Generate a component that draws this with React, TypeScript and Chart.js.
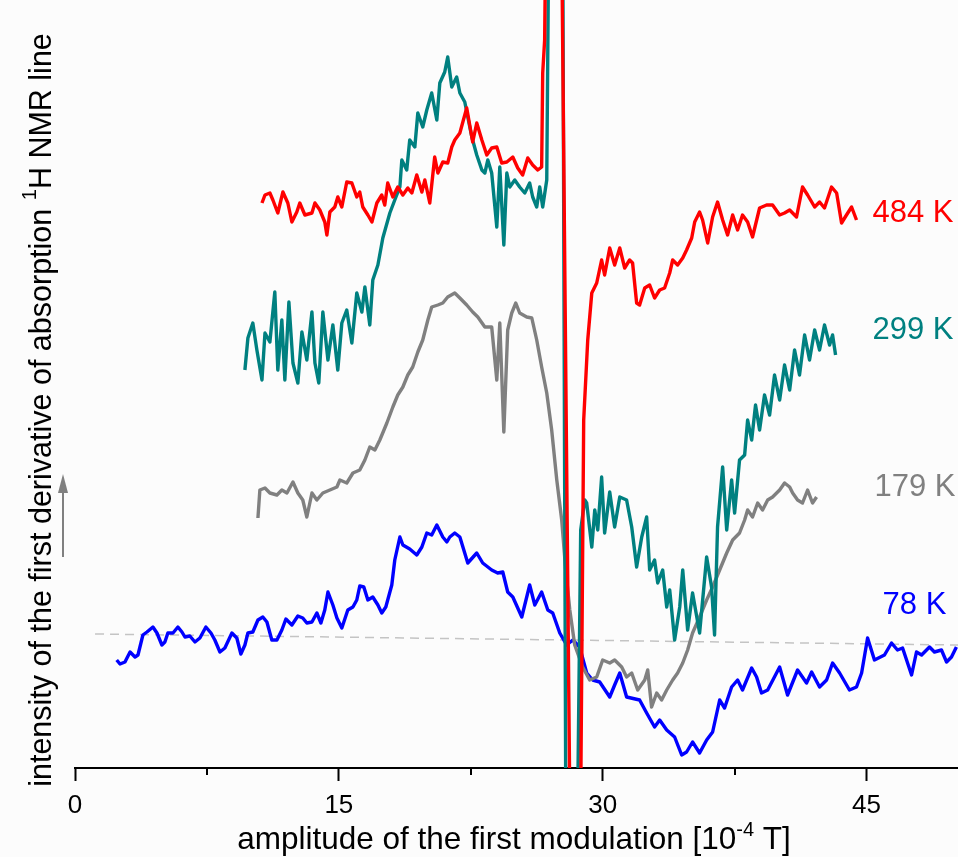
import { useEffect, useRef } from "react";
import { Chart, registerables } from "chart.js";

Chart.register(...registerables);

// ---- data (x: amplitude of first modulation [1e-4 T], y: intensity, arbitrary units) ----
const x484 = [10.63, 10.8, 11.08, 11.25, 11.53, 11.82, 12.1, 12.33, 12.61, 12.78, 13.07, 13.47, 13.64, 13.92, 14.2, 14.32, 14.49, 14.77, 14.94, 15.17, 15.45, 15.74, 16.02, 16.19, 16.36, 16.65, 16.88, 17.16, 17.44, 17.61, 17.78, 18.07, 18.35, 18.64, 18.92, 19.15, 19.43, 19.72, 19.89, 20.17, 20.45, 20.63, 20.91, 21.19, 21.42, 21.59, 21.88, 22.05, 22.27, 22.44, 22.61, 22.84, 23.13, 23.41, 23.69, 23.98, 24.26, 24.55, 24.89, 25.17, 25.45, 25.74, 26.02, 26.31, 26.53, 26.59, 26.7, 26.76, 27.67, 28.13, 28.75, 28.92, 29.15, 29.38, 29.66, 29.94, 30.11, 30.4, 30.68, 30.97, 31.25, 31.53, 31.7, 31.93, 32.1, 32.39, 32.67, 32.95, 33.24, 33.52, 33.81, 33.98, 34.26, 34.55, 34.77, 35.06, 35.23, 35.51, 35.68, 35.97, 36.25, 36.53, 36.82, 37.1, 37.39, 37.67, 37.95, 38.24, 38.52, 38.92, 39.32, 39.66, 40.06, 40.34, 40.63, 41.02, 41.36, 41.65, 42.05, 42.33, 42.61, 43.01, 43.3, 43.58, 43.86, 44.15, 44.43];
const y484 = [56.5, 57.3, 57.5, 56.8, 55.5, 57.6, 56.5, 54.6, 55.6, 56.5, 55.3, 55.5, 56.5, 55.8, 54.6, 53.3, 55.6, 56.1, 57.1, 56.1, 58.6, 58.5, 57.1, 57.6, 56.1, 55.3, 54.6, 56.5, 57.3, 56.3, 58.5, 57.1, 58.1, 57.3, 58.0, 57.5, 59.3, 57.6, 58.8, 56.5, 61.1, 59.5, 60.6, 60.5, 62.1, 62.8, 63.5, 64.6, 66.0, 64.3, 62.6, 64.5, 62.8, 61.3, 62.0, 62.1, 60.5, 60.6, 61.1, 60.0, 59.3, 61.0, 60.3, 59.8, 60.1, 69.5, 72.8, 82.8, 82.8, -3.2, -3.2, 34.8, 42.8, 47.5, 48.5, 50.8, 49.3, 52.0, 50.3, 52.0, 50.0, 50.8, 50.5, 46.5, 46.3, 48.0, 48.3, 47.0, 47.8, 48.0, 49.5, 50.8, 50.3, 51.0, 51.8, 53.0, 54.6, 55.6, 54.8, 52.5, 55.1, 56.6, 54.8, 53.3, 55.3, 53.8, 55.3, 54.6, 53.1, 56.0, 56.3, 56.3, 55.3, 55.5, 55.8, 55.1, 58.1, 57.3, 56.1, 56.6, 56.0, 58.1, 57.5, 54.5, 55.3, 56.1, 54.8];

const x299 = [9.66, 9.83, 10.11, 10.34, 10.63, 10.8, 11.08, 11.36, 11.53, 11.76, 11.93, 12.16, 12.39, 12.67, 12.9, 13.18, 13.47, 13.64, 13.86, 14.09, 14.38, 14.66, 14.94, 15.17, 15.45, 15.74, 16.02, 16.31, 16.48, 16.76, 16.93, 17.22, 17.5, 17.9, 18.18, 18.47, 18.58, 18.86, 19.03, 19.32, 19.49, 19.77, 20.0, 20.28, 20.57, 20.74, 21.02, 21.19, 21.42, 21.7, 21.88, 22.16, 22.33, 22.56, 22.84, 23.13, 23.3, 23.47, 23.69, 23.98, 24.15, 24.38, 24.55, 24.72, 25.0, 25.28, 25.57, 25.85, 26.02, 26.25, 26.42, 26.59, 26.82, 26.93, 27.73, 27.9, 28.58, 28.75, 28.98, 29.09, 29.38, 29.55, 29.72, 29.94, 30.11, 30.4, 30.68, 30.97, 31.36, 31.65, 31.93, 32.22, 32.5, 32.67, 32.95, 33.13, 33.41, 33.64, 33.81, 34.09, 34.38, 34.55, 34.83, 35.11, 35.51, 35.91, 36.19, 36.36, 36.53, 36.82, 37.05, 37.33, 37.5, 37.78, 38.07, 38.24, 38.47, 38.69, 38.92, 39.2, 39.49, 39.77, 40.06, 40.34, 40.63, 40.91, 41.19, 41.48, 41.76, 42.05, 42.33, 42.61, 42.9, 43.07, 43.24];
const y299 = [39.8, 43.0, 44.5, 41.8, 38.8, 43.5, 42.6, 47.6, 39.8, 44.8, 38.8, 46.6, 40.5, 38.5, 43.6, 40.8, 45.6, 40.5, 38.5, 45.6, 40.8, 44.3, 39.8, 44.5, 45.8, 42.5, 47.5, 45.6, 48.1, 44.3, 48.8, 50.3, 53.0, 55.5, 56.8, 58.1, 60.8, 59.8, 62.8, 62.1, 65.5, 64.1, 65.8, 67.5, 64.8, 68.5, 69.6, 71.1, 68.1, 69.1, 67.5, 66.6, 65.1, 63.1, 61.3, 59.8, 59.5, 60.8, 59.5, 54.1, 60.1, 52.3, 59.5, 58.1, 58.8, 58.1, 57.5, 58.5, 57.1, 56.1, 58.1, 56.1, 58.8, 82.8, 82.8, -3.2, -3.2, 23.8, 26.8, 26.5, 22.1, 25.8, 23.8, 29.1, 23.5, 27.6, 24.1, 27.1, 26.8, 24.1, 20.1, 23.1, 25.1, 19.8, 20.8, 18.5, 19.8, 16.1, 17.8, 12.8, 16.1, 19.8, 13.8, 17.5, 13.5, 21.1, 18.1, 13.3, 24.1, 30.1, 23.8, 28.8, 25.5, 30.8, 31.3, 34.8, 32.8, 36.3, 33.8, 37.3, 35.3, 39.3, 36.8, 40.3, 37.8, 41.8, 39.3, 43.3, 40.8, 43.8, 41.8, 44.3, 42.3, 43.3, 41.3];

const x179 = [10.4, 10.51, 10.8, 11.08, 11.48, 11.76, 12.05, 12.39, 12.67, 12.95, 13.18, 13.47, 13.75, 14.09, 14.49, 14.89, 15.06, 15.45, 15.8, 16.19, 16.48, 16.76, 17.05, 17.33, 17.73, 18.07, 18.35, 18.64, 18.92, 19.2, 19.49, 19.77, 20.06, 20.28, 20.63, 20.91, 21.19, 21.59, 21.88, 22.27, 22.61, 22.9, 23.3, 23.69, 23.98, 24.15, 24.38, 24.6, 24.83, 25.06, 25.28, 25.68, 25.97, 26.25, 26.53, 26.82, 27.1, 27.39, 27.67, 27.9, 28.13, 28.41, 28.86, 29.26, 29.66, 30.0, 30.4, 30.68, 31.08, 31.36, 31.65, 31.99, 32.39, 32.56, 32.78, 33.07, 33.35, 33.64, 33.98, 34.26, 34.55, 34.83, 35.11, 35.51, 35.91, 36.25, 36.65, 37.05, 37.39, 37.78, 38.07, 38.24, 38.52, 38.81, 39.09, 39.38, 39.66, 40.06, 40.34, 40.63, 40.8, 41.08, 41.36, 41.65, 41.93, 42.16];
const y179 = [25.0, 27.8, 28.0, 27.5, 27.3, 27.8, 27.5, 28.6, 27.5, 26.8, 25.1, 27.5, 26.8, 27.5, 27.8, 28.1, 28.8, 28.5, 29.5, 29.8, 30.8, 32.1, 31.8, 32.8, 34.5, 36.1, 37.3, 38.1, 39.3, 40.1, 41.6, 42.8, 44.8, 46.1, 46.3, 46.5, 47.1, 47.5, 47.0, 46.3, 45.6, 45.1, 44.1, 44.1, 38.8, 44.5, 33.6, 43.8, 45.5, 46.5, 45.5, 45.1, 45.0, 42.8, 40.1, 37.5, 33.8, 28.8, 24.8, 19.8, 15.8, 12.3, 10.1, 8.8, 9.1, 10.8, 10.5, 10.8, 10.1, 9.1, 9.5, 7.8, 8.8, 9.8, 6.1, 7.5, 6.8, 7.8, 8.8, 9.5, 10.5, 11.8, 13.5, 15.1, 16.8, 18.1, 19.8, 21.5, 22.8, 23.5, 24.8, 25.8, 25.1, 26.5, 25.8, 26.8, 27.1, 27.8, 28.5, 28.1, 27.5, 26.8, 26.5, 27.8, 26.5, 27.1];

const x78 = [2.37, 2.56, 2.84, 3.13, 3.41, 3.58, 3.86, 4.09, 4.43, 4.66, 4.94, 5.11, 5.28, 5.57, 5.85, 6.08, 6.25, 6.53, 6.82, 7.1, 7.44, 7.73, 7.95, 8.24, 8.52, 8.92, 9.2, 9.43, 9.66, 9.83, 10.11, 10.4, 10.68, 10.91, 11.19, 11.48, 11.76, 11.99, 12.33, 12.67, 12.95, 13.18, 13.47, 13.75, 13.98, 14.2, 14.38, 14.66, 14.89, 15.17, 15.51, 15.8, 16.02, 16.19, 16.42, 16.65, 16.93, 17.22, 17.44, 17.67, 18.01, 18.18, 18.47, 18.64, 19.03, 19.43, 19.72, 20.0, 20.28, 20.57, 20.91, 21.14, 21.31, 21.59, 21.88, 22.33, 22.84, 23.18, 23.69, 24.03, 24.32, 24.6, 24.89, 25.4, 25.85, 26.14, 26.53, 26.88, 27.16, 27.56, 27.95, 28.3, 28.69, 29.09, 29.43, 29.83, 30.4, 30.68, 30.97, 31.36, 32.1, 32.5, 32.95, 33.24, 33.64, 34.09, 34.49, 34.77, 35.11, 35.51, 35.91, 36.25, 36.65, 36.93, 37.33, 37.67, 37.95, 38.47, 38.75, 39.03, 39.38, 40.06, 40.51, 41.08, 41.59, 41.88, 42.33, 42.73, 43.07, 43.47, 44.03, 44.43, 44.72, 45.06, 45.45, 46.02, 46.42, 46.76, 47.05, 47.56, 47.84, 48.13, 48.58, 48.86, 49.26, 49.55, 49.83, 50.11];
const y78 = [10.8, 10.4, 10.6, 11.6, 11.1, 11.3, 13.3, 13.6, 14.1, 13.5, 12.3, 12.6, 13.5, 13.5, 14.1, 13.6, 13.1, 13.2, 12.6, 13.0, 14.1, 13.5, 12.8, 11.6, 12.0, 13.5, 13.0, 11.4, 12.3, 13.5, 13.6, 14.8, 15.1, 14.6, 12.8, 12.8, 13.8, 14.9, 14.3, 15.2, 15.0, 14.5, 14.6, 15.5, 14.5, 15.8, 17.6, 16.3, 15.0, 14.0, 15.8, 16.1, 16.8, 18.2, 18.1, 16.8, 17.1, 16.3, 15.5, 16.1, 18.3, 20.8, 23.1, 22.3, 21.9, 21.3, 22.1, 23.5, 23.3, 24.3, 23.1, 22.6, 23.1, 23.5, 23.1, 20.5, 21.5, 20.5, 19.8, 19.5, 19.6, 17.6, 17.1, 15.1, 18.3, 16.3, 17.6, 15.8, 15.5, 13.5, 12.3, 12.8, 12.1, 9.5, 8.8, 8.6, 7.1, 8.3, 9.5, 7.1, 6.8, 5.5, 4.1, 4.8, 3.8, 3.1, 1.3, 1.6, 2.6, 1.5, 2.8, 3.6, 6.8, 6.0, 8.1, 8.8, 7.8, 10.0, 9.1, 7.5, 7.8, 10.1, 7.3, 9.8, 8.5, 9.6, 8.1, 8.8, 10.5, 9.5, 7.8, 8.1, 9.5, 13.0, 10.8, 11.3, 12.5, 11.8, 12.0, 9.3, 11.6, 11.3, 12.1, 11.6, 11.8, 10.6, 11.1, 12.1];

const xBaseline = [1.14, 50.2];
const yBaseline = [13.4, 12.3];

const seriesNames = ["484 K", "299 K", "179 K", "78 K"];
const seriesColors = ["#ff0000", "#008080", "#808080", "#0000ff"];
const labelX = [45.34, 45.34, 45.45, 45.91];
const labelY = [55.5, 43.8, 28.1, 16.3];

const xMin = 0;
const xMax = 50.2;
const yMin = 0;
const yMax = 76.8;
const majorStep = 15;
const minorStep = 7.5;

const FONT = '"Liberation Sans", Arial, Helvetica, sans-serif';

type Seg = { t: string; size: number; rise: number };

function toPoints(xs: number[], ys: number[]) {
  return xs.map((x, i) => ({ x, y: ys[i] }));
}

function segWidth(ctx: CanvasRenderingContext2D, segs: Seg[]) {
  let w = 0;
  for (const s of segs) {
    ctx.font = `${s.size}px ${FONT}`;
    w += ctx.measureText(s.t).width;
  }
  return w;
}

function drawSegs(ctx: CanvasRenderingContext2D, segs: Seg[], cx: number, baseline: number) {
  const total = segWidth(ctx, segs);
  let x = cx - total / 2;
  ctx.textAlign = "left";
  ctx.textBaseline = "alphabetic";
  for (const s of segs) {
    ctx.font = `${s.size}px ${FONT}`;
    ctx.fillText(s.t, x, baseline - s.rise);
    x += ctx.measureText(s.t).width;
  }
}

const decorPlugin = {
  id: "decor",
  beforeDraw(chart: any) {
    const ctx = chart.ctx as CanvasRenderingContext2D;
    ctx.save();
    ctx.fillStyle = "#fcfcfc";
    ctx.fillRect(0, 0, chart.width, chart.height);
    ctx.restore();
  },
  afterDraw(chart: any) {
    const ctx = chart.ctx as CanvasRenderingContext2D;
    const xs = chart.scales.x;
    const ys = chart.scales.y;
    const area = chart.chartArea;
    ctx.save();
    // minor ticks
    ctx.strokeStyle = "#000";
    ctx.lineWidth = 2;
    for (let v = minorStep; v < xMax; v += majorStep) {
      const px = Math.round(xs.getPixelForValue(v));
      ctx.beginPath();
      ctx.moveTo(px, area.bottom);
      ctx.lineTo(px, area.bottom + 7);
      ctx.stroke();
    }
    // series labels
    ctx.font = `31px ${FONT}`;
    ctx.textAlign = "left";
    ctx.textBaseline = "middle";
    seriesNames.forEach((n, i) => {
      ctx.fillStyle = seriesColors[i];
      ctx.fillText(n, xs.getPixelForValue(labelX[i]), ys.getPixelForValue(labelY[i]));
    });
    // x title
    ctx.fillStyle = "#000";
    drawSegs(
      ctx,
      [
        { t: "amplitude of the first modulation [10", size: 31.5, rise: 0 },
        { t: "-4", size: 20, rise: 13 },
        { t: " T]", size: 31.5, rise: 0 },
      ],
      514,
      849
    );
    // y title (rotated)
    ctx.save();
    ctx.translate(51, 410);
    ctx.rotate(-Math.PI / 2);
    drawSegs(
      ctx,
      [
        { t: "intensity of the first derivative of absorption ", size: 30.5, rise: 0 },
        { t: "1", size: 20, rise: 15 },
        { t: "H NMR line", size: 30.5, rise: 0 },
      ],
      0,
      0
    );
    ctx.restore();
    // arrow
    ctx.strokeStyle = "#808080";
    ctx.fillStyle = "#808080";
    ctx.lineWidth = 2;
    ctx.beginPath();
    ctx.moveTo(63, 557);
    ctx.lineTo(63, 490);
    ctx.stroke();
    ctx.beginPath();
    ctx.moveTo(63, 474);
    ctx.lineTo(58, 493);
    ctx.lineTo(68, 493);
    ctx.closePath();
    ctx.fill();
    ctx.restore();
  },
};

export default function App() {
  const ref = useRef<HTMLCanvasElement | null>(null);
  useEffect(() => {
    if (!ref.current) return;
    const lw = 3.4;
    const chart = new Chart(ref.current, {
      type: "line",
      data: {
        datasets: [
          { label: seriesNames[0], data: toPoints(x484, y484), borderColor: seriesColors[0], borderWidth: lw },
          { label: seriesNames[1], data: toPoints(x299, y299), borderColor: seriesColors[1], borderWidth: lw },
          { label: seriesNames[2], data: toPoints(x179, y179), borderColor: seriesColors[2], borderWidth: lw },
          { label: seriesNames[3], data: toPoints(x78, y78), borderColor: seriesColors[3], borderWidth: lw },
          {
            label: "baseline",
            data: toPoints(xBaseline, yBaseline),
            borderColor: "#c4c4c4",
            borderWidth: 1.5,
            borderDash: [9, 6],
          },
        ] as any,
      },
      options: {
        animation: false,
        responsive: false,
        elements: { point: { radius: 0, hoverRadius: 0 }, line: { tension: 0, fill: false, borderJoinStyle: "round" } },
        layout: { autoPadding: false, padding: { left: 75, right: 0, top: 0, bottom: 0 } },
        plugins: { legend: { display: false }, tooltip: { enabled: false }, title: { display: false } },
        scales: {
          x: {
            type: "linear",
            position: "bottom",
            min: xMin,
            max: xMax,
            border: { display: true, color: "#000", width: 2 },
            grid: {
              drawOnChartArea: false,
              drawTicks: true,
              tickLength: 13,
              tickWidth: 2,
              tickColor: (c: any) => (c.tick && Math.abs(c.tick.value % majorStep) < 1e-6 ? "#000" : "rgba(0,0,0,0)"),
            },
            ticks: {
              stepSize: minorStep,
              autoSkip: false,
              maxRotation: 0,
              padding: 9,
              color: "#000",
              font: { size: 26, family: FONT },
              callback: (v: any) => (Math.abs(Number(v) % majorStep) < 1e-6 ? String(v) : ""),
            },
            afterFit: (s: any) => {
              s.height = 89;
              s.paddingLeft = 0;
              s.paddingRight = 0;
            },
          },
          y: {
            type: "linear",
            display: false,
            min: yMin,
            max: yMax,
          },
        },
      } as any,
      plugins: [decorPlugin],
    });
    return () => chart.destroy();
  }, []);
  return (
    <div style={{ position: "fixed", left: 0, top: 0, width: 958, height: 857 }}>
      <canvas ref={ref} width={958} height={857} style={{ width: 958, height: 857, display: "block" }} />
    </div>
  );
}
